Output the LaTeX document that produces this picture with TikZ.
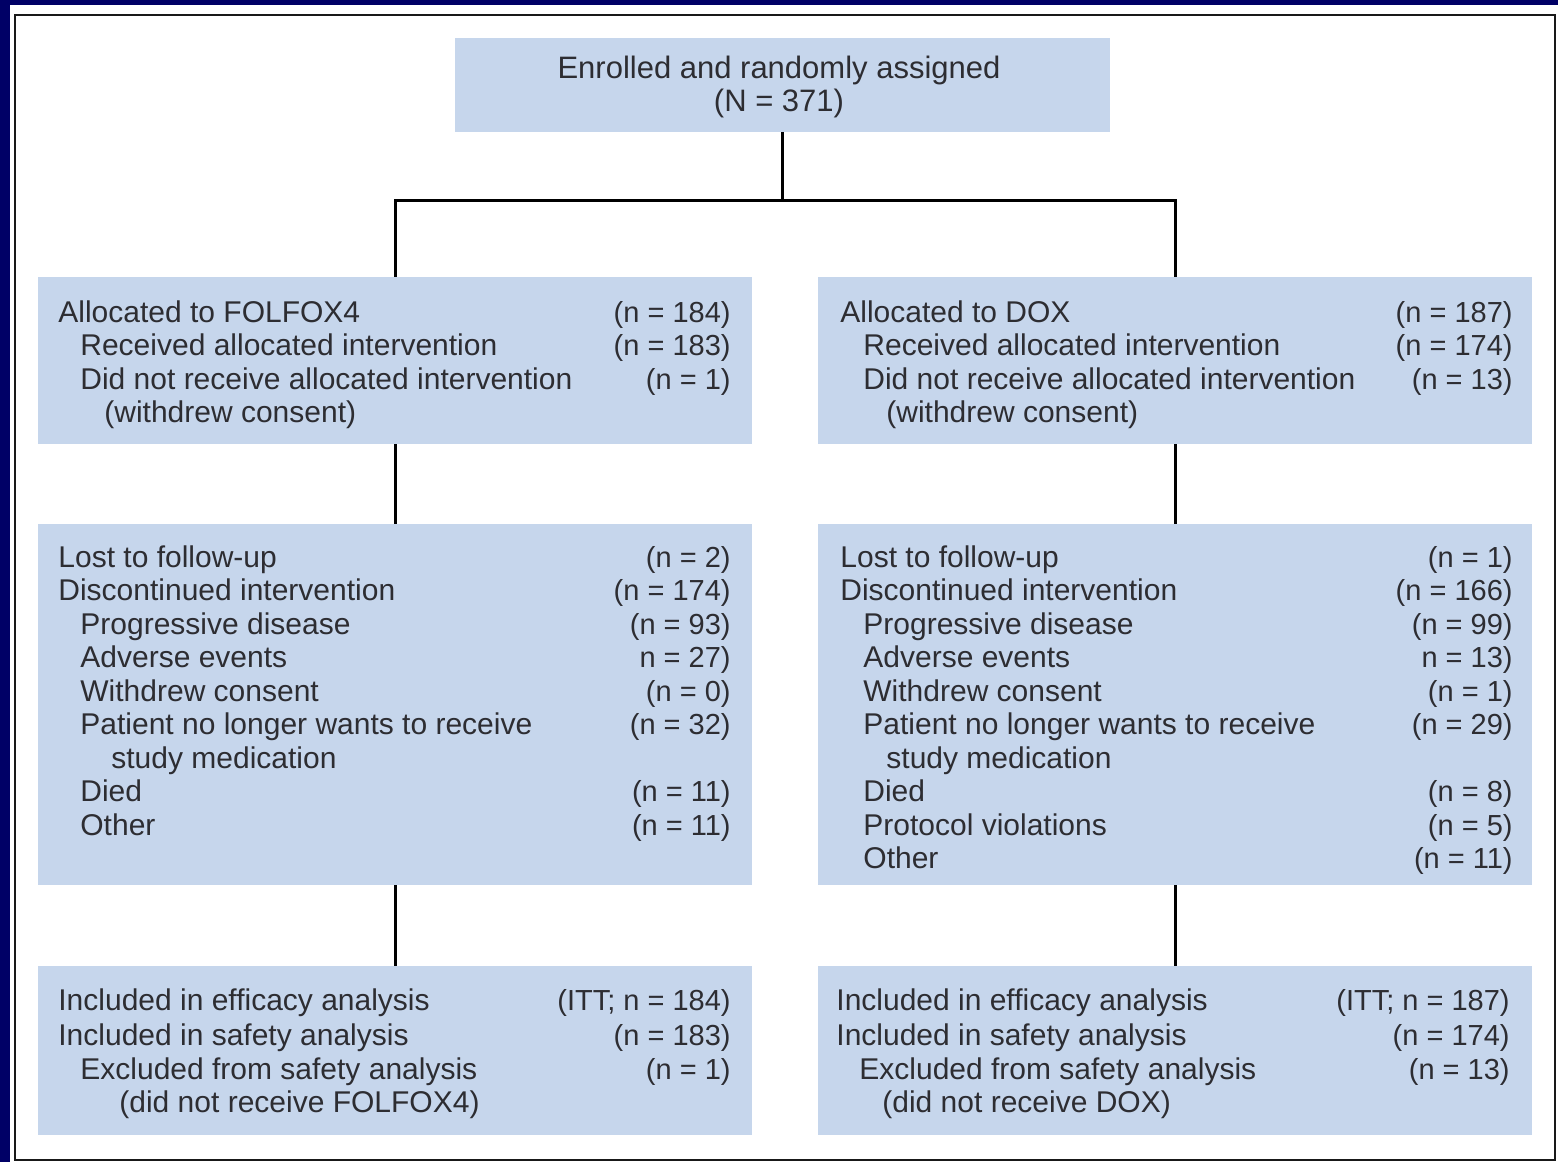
\documentclass[tikz,border=0pt]{standalone}
\usepackage{fontspec}
\setmainfont{Liberation Sans}
\usepackage{xcolor}
\definecolor{slidenavy}{RGB}{0,0,102}
\definecolor{boxblue}{RGB}{198,214,236}
\definecolor{inkgray}{RGB}{45,45,50}

\begin{document}
\begin{tikzpicture}[x=0.5pt,y=-0.5pt,
  box/.style={fill=boxblue,draw=none,inner sep=0pt,minimum width=357pt},
  txt/.style={anchor=base west,inner sep=0pt,text=inkgray,font=\fontsize{15}{16.5}\selectfont},
  val/.style={anchor=base east,inner sep=0pt,text=inkgray,font=\fontsize{14.5}{16.5}\selectfont},
  link/.style={line width=1.5pt}]
\useasboundingbox (0,0) rectangle (1558,1162);
% slide background and frame
\fill[slidenavy] (0,0) rectangle (1558,1162);
\fill[white] (10,5) rectangle (1558,1162);
\draw[line width=1pt,black!90] (15,15) rectangle (1555,1160);
% boxes
\node[box,minimum width=327.5pt,minimum height=47pt,align=center,text=inkgray,
  font=\fontsize{15.5}{16.5}\selectfont] (enrol) at (782.5,85) {};
\node[align=center,text=inkgray,inner sep=0pt,font=\fontsize{15.5}{16.5}\selectfont]
  (enrolt) at (779,87) {Enrolled and randomly assigned\\(N = 371)};
\node[box,minimum height=83.5pt] (allocL) at (395,360.5) {};
\node[box,minimum height=83.5pt] (allocR) at (1175,360.5) {};
\node[box,minimum height=180.5pt] (followL) at (395,704.5) {};
\node[box,minimum height=180.5pt] (followR) at (1175,704.5) {};
\node[box,minimum height=84.5pt] (analL) at (395,1050.5) {};
\node[box,minimum height=84.5pt] (analR) at (1175,1050.5) {};
% connectors
\coordinate (split) at (782.5,200);
\draw[link] (enrol.south) -- (split);
\draw[link] (split) -| (allocL.north);
\draw[link] (split) -| (allocR.north);
\draw[link] (allocL.south) -- (followL.north);
\draw[link] (allocR.south) -- (followR.north);
\draw[link] (followL.south) -- (analL.north);
\draw[link] (followR.south) -- (analR.north);
% allocation
\foreach \x/\y/\t [count=\i] in {58/322/Allocated to FOLFOX4,80/355/Received allocated intervention,
  80/389/Did not receive allocated intervention,104/422/(withdrew consent)}
  \node[txt] (aLt\i) at (\x,\y) {\t};
\foreach \y/\v [count=\i] in {322/(n = 184),355/(n = 183),389/(n = 1)}
  \node[val] (aLv\i) at (731,\y) {\v};
\foreach \x/\y/\t [count=\i] in {840/322/Allocated to DOX,863/355/Received allocated intervention,
  863/389/Did not receive allocated intervention,886/422/(withdrew consent)}
  \node[txt] (aRt\i) at (\x,\y) {\t};
\foreach \y/\v [count=\i] in {322/(n = 187),355/(n = 174),389/(n = 13)}
  \node[val] (aRv\i) at (1513,\y) {\v};
% follow-up
\foreach \x/\y/\t [count=\i] in {58/567/Lost to follow-up,58/600/Discontinued intervention,
  80/634/Progressive disease,80/667/Adverse events,80/701/Withdrew consent,
  80/734/Patient no longer wants to receive,111/768/study medication,80/801/Died,80/835/Other}
  \node[txt] (fLt\i) at (\x,\y) {\t};
\foreach \y/\v [count=\i] in {567/(n = 2),600/(n = 174),634/(n = 93),667/n = 27),701/(n = 0),
  734/(n = 32),801/(n = 11),835/(n = 11)}
  \node[val] (fLv\i) at (731,\y) {\v};
\foreach \x/\y/\t [count=\i] in {840/567/Lost to follow-up,840/600/Discontinued intervention,
  863/634/Progressive disease,863/667/Adverse events,863/701/Withdrew consent,
  863/734/Patient no longer wants to receive,886/768/study medication,863/801/Died,
  863/835/Protocol violations,863/868/Other}
  \node[txt] (fRt\i) at (\x,\y) {\t};
\foreach \y/\v [count=\i] in {567/(n = 1),600/(n = 166),634/(n = 99),667/n = 13),701/(n = 1),
  734/(n = 29),801/(n = 8),835/(n = 5),868/(n = 11)}
  \node[val] (fRv\i) at (1513,\y) {\v};
% analysis
\foreach \x/\y/\t [count=\i] in {58/1010/Included in efficacy analysis,58/1045/Included in safety analysis,
  80/1079/Excluded from safety analysis,119/1112/(did not receive FOLFOX4)}
  \node[txt] (nLt\i) at (\x,\y) {\t};
\foreach \y/\v [count=\i] in {1010/(ITT; n = 184),1045/(n = 183),1079/(n = 1)}
  \node[val] (nLv\i) at (731,\y) {\v};
\foreach \x/\y/\t [count=\i] in {836/1010/Included in efficacy analysis,836/1045/Included in safety analysis,
  859/1079/Excluded from safety analysis,882/1112/(did not receive DOX)}
  \node[txt] (nRt\i) at (\x,\y) {\t};
\foreach \y/\v [count=\i] in {1010/(ITT; n = 187),1045/(n = 174),1079/(n = 13)}
  \node[val] (nRv\i) at (1510,\y) {\v};
\end{tikzpicture}
\end{document}
